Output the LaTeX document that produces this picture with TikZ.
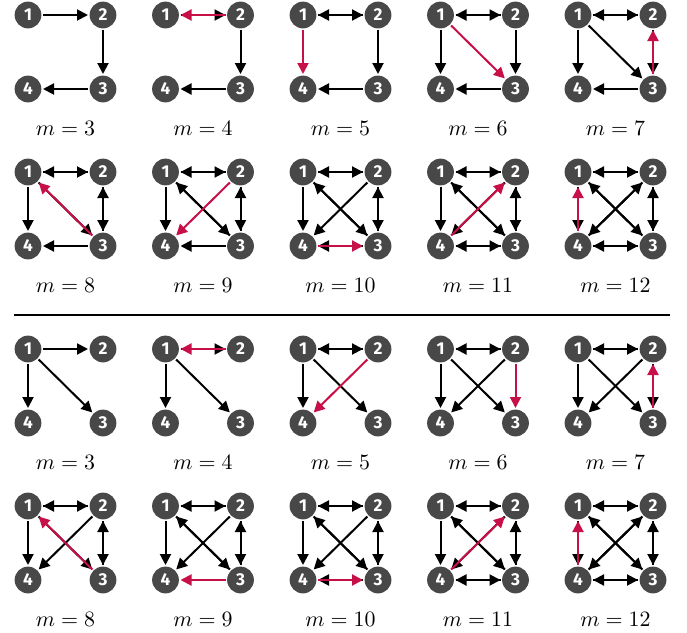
\documentclass[tikz,border=0pt]{standalone}
\usepackage{fontspec}
\newfontfamily\numfont{Fira Sans}
\usetikzlibrary{arrows.meta}
\definecolor{slate}{RGB}{72,72,72}
\definecolor{crimson}{RGB}{200,16,72}
\tikzset{
  >={Triangle[length=5.5pt,width=5.5pt]},
  vertex/.style={circle,fill=slate,text=white,inner sep=0pt,minimum size=13.4pt,
    outer sep=0.8pt,font=\numfont\fontsize{8.6}{9}\selectfont\bfseries},
  edge/.style={->,line width=1pt,draw=#1},
  edge/.default=black,
  mlabel/.style={font=\fontsize{11.2}{13}\selectfont},
  sep/.style={line width=0.9pt,black},
}
% one digraph on four vertices: name, x, y, m, old arcs, new arc
\newcommand{\graphcell}[6]{%
  \begin{scope}[shift={(#2,#3)}]
    \node[vertex] (#1-1) at (0,0) {1};
    \node[vertex] (#1-2) at (75,0) {2};
    \node[vertex] (#1-3) at (75,74) {3};
    \node[vertex] (#1-4) at (0,74) {4};
    \foreach \a/\b in {#5} \draw[edge] (#1-\a) -- (#1-\b);
    \foreach \a/\b in {#6} \draw[edge=crimson] (#1-\a) -- (#1-\b);
    \node[mlabel] (#1-m) at (37.5,113) {$m=#4$};
  \end{scope}}

\begin{document}
\begin{tikzpicture}[x=0.5pt,y=-0.5pt]
  \useasboundingbox (0,0) rectangle (687,633);
  % top half
  \graphcell{t3}{28}{15}{3}{1/2,2/3,3/4}{}
  \graphcell{t4}{165.5}{15}{4}{1/2,2/3,3/4}{2/1}
  \graphcell{t5}{303}{15}{5}{1/2,2/1,2/3,3/4}{1/4}
  \graphcell{t6}{440.5}{15}{6}{1/2,2/1,2/3,3/4,1/4}{1/3}
  \graphcell{t7}{578}{15}{7}{1/2,2/1,2/3,3/4,1/4,1/3}{3/2}
  \graphcell{t8}{28}{172}{8}{1/2,2/1,2/3,3/2,3/4,1/4,1/3}{3/1}
  \graphcell{t9}{165.5}{172}{9}{1/2,2/1,2/3,3/2,3/4,1/4,1/3,3/1}{2/4}
  \graphcell{t10}{303}{172}{10}{1/2,2/1,2/3,3/2,3/4,1/4,1/3,3/1,2/4}{4/3}
  \graphcell{t11}{440.5}{172}{11}{1/2,2/1,2/3,3/2,3/4,4/3,1/4,1/3,3/1,2/4}{4/2}
  \graphcell{t12}{578}{172}{12}{1/2,2/1,2/3,3/2,3/4,4/3,1/4,1/3,3/1,2/4,4/2}{4/1}
  % separator
  \coordinate (rule-l) at (14,315);
  \coordinate (rule-r) at (670,315);
  \draw[sep] (rule-l) -- (rule-r);
  % bottom half
  \graphcell{b3}{28}{349}{3}{1/2,1/3,1/4}{}
  \graphcell{b4}{165.5}{349}{4}{1/2,1/3,1/4}{2/1}
  \graphcell{b5}{303}{349}{5}{1/2,2/1,1/3,1/4}{2/4}
  \graphcell{b6}{440.5}{349}{6}{1/2,2/1,1/3,1/4,2/4}{2/3}
  \graphcell{b7}{578}{349}{7}{1/2,2/1,1/3,1/4,2/4,2/3}{3/2}
  \graphcell{b8}{28}{506}{8}{1/2,2/1,1/3,1/4,2/4,2/3,3/2}{3/1}
  \graphcell{b9}{165.5}{506}{9}{1/2,2/1,1/3,3/1,1/4,2/4,2/3,3/2}{3/4}
  \graphcell{b10}{303}{506}{10}{1/2,2/1,1/3,3/1,1/4,2/4,2/3,3/2,3/4}{4/3}
  \graphcell{b11}{440.5}{506}{11}{1/2,2/1,1/3,3/1,1/4,2/4,2/3,3/2,3/4,4/3}{4/2}
  \graphcell{b12}{578}{506}{12}{1/2,2/1,1/3,3/1,1/4,2/4,4/2,2/3,3/2,3/4,4/3}{4/1}
\end{tikzpicture}
\end{document}
